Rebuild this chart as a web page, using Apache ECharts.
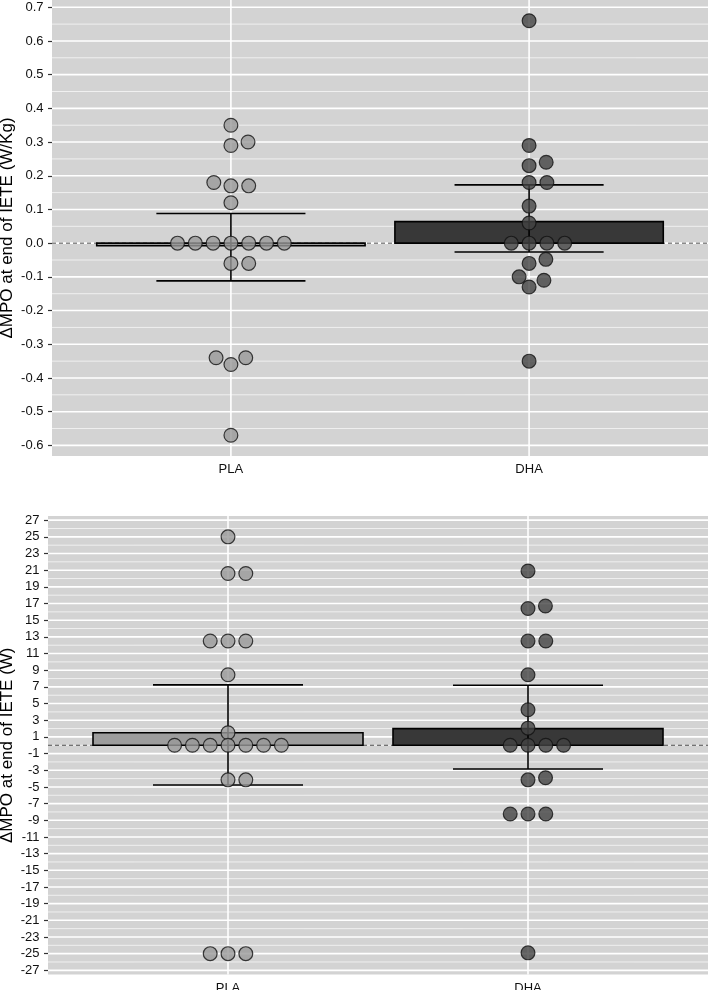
<!DOCTYPE html>
<html><head><meta charset="utf-8">
<script src="https://cdn.jsdelivr.net/npm/echarts@6/dist/echarts.min.js"></script>
<style>html,body{margin:0;padding:0;background:#fff}#c{width:708px;height:990px}</style>
</head><body><div id="c"></div>
<script>
// ---------- DATA ----------
const categories = ['PLA', 'DHA'];

// Panel A: ΔMPO (W/Kg)
const plaWkg = [0.35, 0.30, 0.29, 0.18, 0.17, 0.17, 0.12, 0, 0, 0, 0, 0, 0, 0, -0.06, -0.06, -0.34, -0.34, -0.36, -0.57];
const dhaWkg = [0.66, 0.29, 0.24, 0.23, 0.18, 0.18, 0.11, 0.06, 0, 0, 0, 0, -0.048, -0.06, -0.10, -0.11, -0.13, -0.35];
const meanWkg = [-0.0075, 0.064];
const errLowWkg = [-0.112, -0.026];
const errHighWkg = [0.088, 0.173];
const ticksWkg = [-0.6, -0.5, -0.4, -0.3, -0.2, -0.1, 0.0, 0.1, 0.2, 0.3, 0.4, 0.5, 0.6, 0.7];
const titleWkg = 'ΔMPO at end of IETE (W/Kg)';

// Panel B: ΔMPO (W)
const plaW = [25, 20.6, 20.6, 12.5, 12.5, 12.5, 8.45, 1.5, 0, 0, 0, 0, 0, 0, 0, -4.15, -4.15, -25, -25, -25];
const dhaW = [20.9, 16.4, 16.7, 12.5, 12.5, 8.45, 4.25, 2.05, 0, 0, 0, 0, -3.9, -4.15, -8.25, -8.25, -8.25, -24.9];
const meanW = [1.5, 2.0];
const errLowW = [-4.77, -2.84];
const errHighW = [7.24, 7.2];
const ticksW = [-27, -25, -23, -21, -19, -17, -15, -13, -11, -9, -7, -5, -3, -1, 1, 3, 5, 7, 9, 11, 13, 15, 17, 19, 21, 23, 25, 27];
const titleW = 'ΔMPO at end of IETE (W)';

// ---------- LAYOUT / STYLE ----------
const W = 708;
const panels = [
  { left: 52, top: 0, height: 456, pla: plaWkg, dha: dhaWkg, mean: meanWkg, lo: errLowWkg, hi: errHighWkg, ticks: ticksWkg, title: titleWkg, fmt: v => v.toFixed(1), nameGap: 36 },
  { left: 48, top: 516, height: 458.5, pla: plaW, dha: dhaW, mean: meanW, lo: errLowW, hi: errHighW, ticks: ticksW, title: titleW, fmt: v => String(v), nameGap: 32 }
];
const FONT = 'Liberation Sans, Arial, Helvetica, sans-serif';
const barFill = ['#9d9d9d', '#383838'];
const ptFill = ['#9a9a9a', '#444444'];
const X_MIN = 0.4, X_MAX = 2.6;
const X_STEP_PX = 17.8, Y_STEP_PX = 12.2;

function swarm(values, pxPerY) {
  const idx = values.map((v, i) => i).sort((a, b) => values[a] - values[b]);
  const placed = [];
  const off = new Array(values.length);
  for (const i of idx) {
    const y = values[i] * pxPerY;
    const near = placed.filter(p => Math.abs(p.y - y) < Y_STEP_PX);
    const cands = [0];
    for (const p of near) {
      const dy = (p.y - y) / Y_STEP_PX;
      const dx = X_STEP_PX * Math.sqrt(Math.max(0, 1 - dy * dy));
      cands.push(p.x + dx, p.x - dx);
    }
    let best = null;
    for (const c of cands) {
      const ok = near.every(p => {
        const a = (c - p.x) / X_STEP_PX, b = (y - p.y) / Y_STEP_PX;
        return a * a + b * b >= 1 - 1e-6;
      });
      if (ok && (best === null || Math.abs(c) < Math.abs(best) - 1e-9)) best = c;
    }
    off[i] = best;
    placed.push({ x: best, y });
  }
  return off;
}

const grids = [], xAxes = [], yAxes = [], series = [];
panels.forEach((P, gi) => {
  const all = P.pla.concat(P.dha);
  const dmin = Math.min(...all), dmax = Math.max(...all);
  const pad = (dmax - dmin) * 0.05;
  const ymin = dmin - pad, ymax = dmax + pad;
  const pxPerY = P.height / (ymax - ymin);
  const pxPerX = (W - P.left) / (X_MAX - X_MIN);

  grids.push({ left: P.left, right: 0, top: P.top, height: P.height, show: true, backgroundColor: '#d3d3d3', borderWidth: 0, containLabel: false, outerBoundsMode: 'none' });
  xAxes.push({
    type: 'value', gridIndex: gi, min: X_MIN, max: X_MAX,
    axisLine: { show: false }, splitLine: { show: false },
    axisTick: { show: true, customValues: [1, 2], length: 4, lineStyle: { color: '#333', width: 1.2 } },
    axisLabel: { customValues: [1, 2], margin: 7, formatter: v => categories[Math.round(v) - 1] || '', color: '#111', fontSize: 13, fontFamily: FONT }
  });
  yAxes.push({
    type: 'value', gridIndex: gi, min: ymin, max: ymax,
    axisLine: { show: false }, splitLine: { show: false },
    axisTick: { show: true, customValues: P.ticks, length: 4, lineStyle: { color: '#333', width: 1.2 } },
    axisLabel: { customValues: P.ticks, margin: 8.5, formatter: v => P.fmt(Math.round(v * 1000) / 1000), color: '#111', fontSize: 13, fontFamily: FONT },
    name: P.title, nameLocation: 'middle', nameRotate: 90, nameGap: P.nameGap, nameMoveOverlap: false,
    nameTextStyle: { fontSize: 17, color: '#000', fontFamily: FONT }
  });

  // grid lines (minor, major, vertical category lines, dashed zero)
  const gl = [];
  for (let k = 0; k < P.ticks.length - 1; k++) gl.push([(P.ticks[k] + P.ticks[k + 1]) / 2, 0]);
  P.ticks.forEach(v => gl.push([v, 1]));
  categories.forEach((c, i) => gl.push([i + 1, 2]));
  gl.push([0, 3]);
  series.push({
    type: 'custom', xAxisIndex: gi, yAxisIndex: gi, silent: true, z: 1, data: gl,
    encode: { x: [], y: [] },
    renderItem: (params, api) => {
      const v = api.value(0), t = api.value(1);
      const cs = params.coordSys;
      if (t === 2) {
        const x = api.coord([v, 0])[0];
        return { type: 'line', shape: { x1: x, y1: cs.y, x2: x, y2: cs.y + cs.height }, style: { stroke: '#ffffff', lineWidth: 1.6 } };
      }
      const y = api.coord([1, v])[1];
      if (t === 3) {
        return { type: 'line', z2: 5, shape: { x1: cs.x, y1: y, x2: cs.x + cs.width, y2: y }, style: { stroke: '#3a3a3a', lineWidth: 0.9, lineDash: [4, 3] } };
      }
      return { type: 'line', shape: { x1: cs.x, y1: y, x2: cs.x + cs.width, y2: y }, style: { stroke: t === 1 ? '#ffffff' : '#f3f3f3', lineWidth: t === 1 ? 1.6 : 0.9 } };
    }
  });

  // bars
  series.push({
    type: 'custom', xAxisIndex: gi, yAxisIndex: gi, silent: true, z: 3,
    data: P.mean.map((m, i) => [i + 1, m]),
    renderItem: (params, api) => {
      const x = api.value(0), m = api.value(1);
      const p0 = api.coord([x - 0.45, m]), p1 = api.coord([x + 0.45, 0]);
      return { type: 'rect', shape: { x: p0[0], y: Math.min(p0[1], p1[1]), width: p1[0] - p0[0], height: Math.abs(p1[1] - p0[1]) },
        style: { fill: barFill[params.dataIndex], stroke: '#000', lineWidth: 1.6 } };
    }
  });

  // error bars
  series.push({
    type: 'custom', xAxisIndex: gi, yAxisIndex: gi, silent: true, z: 4,
    data: P.lo.map((l, i) => [i + 1, l, P.hi[i]]),
    encode: { x: 0, y: [1, 2] },
    renderItem: (params, api) => {
      const x = api.value(0), lo = api.value(1), hi = api.value(2);
      const a = api.coord([x, lo]), b = api.coord([x, hi]);
      const l = api.coord([x - 0.25, lo])[0], r = api.coord([x + 0.25, lo])[0];
      const st = { stroke: '#000', lineWidth: 1.6 };
      return { type: 'group', children: [
        { type: 'line', shape: { x1: a[0], y1: a[1], x2: b[0], y2: b[1] }, style: st },
        { type: 'line', shape: { x1: l, y1: a[1], x2: r, y2: a[1] }, style: st },
        { type: 'line', shape: { x1: l, y1: b[1], x2: r, y2: b[1] }, style: st }
      ] };
    }
  });

  // points (beeswarm layout)
  [P.pla, P.dha].forEach((vals, ci) => {
    const off = swarm(vals, pxPerY);
    series.push({
      type: 'scatter', xAxisIndex: gi, yAxisIndex: gi, z: 5, silent: true,
      symbol: 'circle', symbolSize: 13.8,
      itemStyle: { color: ptFill[ci], borderColor: '#111', borderWidth: 1.2, opacity: 0.8 },
      data: vals.map((v, i) => [ci + 1 + off[i] / pxPerX, v])
    });
  });
});

const chart = echarts.init(document.getElementById('c'), null, { renderer: 'canvas' });
chart.setOption({ animation: false, backgroundColor: '#fff', grid: grids, xAxis: xAxes, yAxis: yAxes, series });
</script>
</body></html>
